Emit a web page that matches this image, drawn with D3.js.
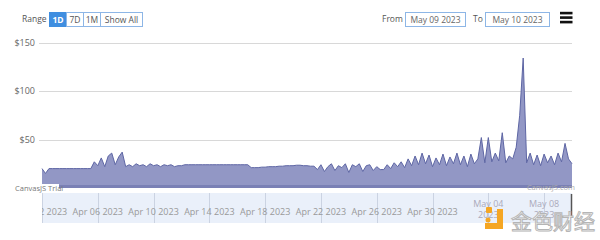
<!DOCTYPE html>
<html>
<head>
<meta charset="utf-8">
<script src="https://cdn.jsdelivr.net/npm/d3@7"></script>
<style>
  body { margin: 0; background: #fff; }
  svg { display: block; font-family: "Open Sans", "Liberation Sans", sans-serif; }
</style>
</head>
<body>
<div id="chart"></div>
<script>
// chart size
const width = 600;
const height = 240;

// data: one value every 6 hours, Apr 02 2023 -> May 10 2023
const startDate = new Date(2023, 3, 2);
const stepHours = 6;
const prices = [
  20, 15, 20, 20, 20, 20, 20, 20, 20, 20, 20, 20, 20, 20, 20,
  27, 23, 31, 22, 33, 36, 24, 32, 37, 22,
  24, 22, 25, 23, 24, 22, 25, 23, 24, 22, 24, 23, 24, 22, 23, 23,
  24, 24, 24, 24, 24, 24, 24, 24, 24, 24, 24, 24, 24, 24, 24, 24, 24, 24, 24,
  21, 21, 21, 21.5, 21.5, 22, 22, 22, 22.5, 22.5, 23, 23, 23, 23.5, 23.5,
  23, 23, 22.5, 22.5,
  19, 24, 17, 22, 25, 18, 23, 21, 25, 16, 24, 22, 25, 17, 23, 24, 18, 22,
  19, 19,
  24, 20, 26, 22, 27, 21, 30, 23, 33, 24, 36, 25,
  34, 22, 31, 24, 35, 23, 32, 25, 36, 24, 33, 22, 35, 25, 30, 52, 26, 52, 27, 36,
  28, 57, 26, 33, 30, 42, 75, 134, 26, 36, 24, 34, 23, 35, 26, 33, 24, 36, 27, 46,
  30, 25
];
const yTicks = [0, 50, 100, 150];
const navTicks = ["2023-04-02", "2023-04-06", "2023-04-10", "2023-04-14", "2023-04-18",
  "2023-04-22", "2023-04-26", "2023-04-30", "2023-05-04", "2023-05-08"];
const rangeButtons = ["1D", "7D", "1M", "Show All"];
const fromDate = "May 09 2023";
const toDate = "May 10 2023";

const series = prices.map((v, i) => ({
  date: d3.timeHour.offset(startDate, i * stepHours),
  value: v
}));

const plot = {left: 42, right: 572, top: 42.5, bottom: 188};
const nav = {top: 193, bottom: 223};

const svg = d3.select("#chart")
  .append("svg")
  .attr("width", width)
  .attr("height", height);

// scales
const x = d3.scaleTime()
  .domain([startDate, new Date(2023, 4, 10)])
  .range([plot.left, plot.right]);

const y = d3.scaleLinear()
  .domain([0, 150])
  .range([plot.bottom, plot.top]);

// toolbar
svg.append("text")
  .attr("x", 22).attr("y", 22)
  .attr("font-size", 8.5).attr("fill", "#555")
  .text("Range");

const btnW = [17, 17, 17, 42];
let bx = 49.5;
rangeButtons.forEach((b, i) => {
  const g = svg.append("g");
  g.append("rect")
    .attr("x", bx).attr("y", 12.5)
    .attr("width", btnW[i]).attr("height", 14)
    .attr("fill", i === 0 ? "#3f8ee0" : "#fff")
    .attr("stroke", i === 0 ? "#3f8ee0" : "#8db6e6");
  g.append("text")
    .attr("x", bx + btnW[i] / 2).attr("y", 22.5)
    .attr("text-anchor", "middle")
    .attr("font-size", 8.5)
    .attr("font-weight", i === 0 ? "bold" : "normal")
    .attr("fill", i === 0 ? "#fff" : "#555")
    .text(b);
  bx += btnW[i];
});

svg.append("text")
  .attr("x", 382).attr("y", 22)
  .attr("font-size", 8.5).attr("fill", "#555")
  .text("From");
svg.append("rect")
  .attr("x", 405.5).attr("y", 12.5).attr("width", 60).attr("height", 14)
  .attr("fill", "#fff").attr("stroke", "#8db6e6");
svg.append("text")
  .attr("x", 435.5).attr("y", 22.5).attr("text-anchor", "middle")
  .attr("font-size", 8.5).attr("fill", "#666")
  .text(fromDate);
svg.append("text")
  .attr("x", 473).attr("y", 22)
  .attr("font-size", 8.5).attr("fill", "#555")
  .text("To");
svg.append("rect")
  .attr("x", 485.5).attr("y", 12.5).attr("width", 64).attr("height", 14)
  .attr("fill", "#fff").attr("stroke", "#8db6e6");
svg.append("text")
  .attr("x", 517.5).attr("y", 22.5).attr("text-anchor", "middle")
  .attr("font-size", 8.5).attr("fill", "#666")
  .text(toDate);

// hamburger menu
[13, 17.5, 22].forEach(yy => {
  svg.append("rect")
    .attr("x", 560).attr("y", yy - 1.2)
    .attr("width", 12.5).attr("height", 2.6)
    .attr("fill", "#111");
});

// grid + y labels
svg.append("g")
  .selectAll("line")
  .data(yTicks.filter(d => d > 0))
  .join("line")
    .attr("x1", 39).attr("x2", plot.right)
    .attr("y1", d => Math.round(y(d)) + 0.5)
    .attr("y2", d => Math.round(y(d)) + 0.5)
    .attr("stroke", "#d8d8d8");

svg.append("g")
  .selectAll("text")
  .data(yTicks)
  .join("text")
    .attr("x", 35)
    .attr("y", d => y(d) + 3)
    .attr("text-anchor", "end")
    .attr("font-size", 9)
    .attr("fill", "#666")
    .text(d => "$" + d);

// area
const area = d3.area()
  .x(d => x(d.date))
  .y0(y(0))
  .y1(d => y(d.value));

const line = d3.line()
  .x(d => x(d.date))
  .y(d => y(d.value));

svg.append("path")
  .datum(series)
  .attr("d", area)
  .attr("fill", "#9297c5");

svg.append("path")
  .datum(series)
  .attr("d", line)
  .attr("fill", "none")
  .attr("stroke", "#5e66a4")
  .attr("stroke-width", 1);

svg.append("line")
  .attr("x1", plot.left).attr("x2", plot.right)
  .attr("y1", plot.bottom - 1.5).attr("y2", plot.bottom - 1.5)
  .attr("stroke", "#7a80b5").attr("stroke-width", 3);

// credits
svg.append("rect")
  .attr("x", 14).attr("y", 184).attr("width", 45).attr("height", 9)
  .attr("fill", "#fff");
svg.append("text")
  .attr("x", 15).attr("y", 191)
  .attr("font-size", 7.5).attr("fill", "#777")
  .text("CanvasJS Trial");
svg.append("text")
  .attr("x", 575).attr("y", 190)
  .attr("text-anchor", "end")
  .attr("font-size", 7.5).attr("fill", "#aaa")
  .text("CanvasJS.com");

// navigator
svg.append("clipPath")
  .attr("id", "navclip")
  .append("rect")
    .attr("x", plot.left).attr("y", nav.top)
    .attr("width", plot.right - plot.left).attr("height", nav.bottom - nav.top);

svg.append("rect")
  .attr("x", plot.left).attr("y", nav.top)
  .attr("width", plot.right - plot.left).attr("height", nav.bottom - nav.top)
  .attr("fill", "#eaf0fa");

const navG = svg.append("g").attr("clip-path", "url(#navclip)");
const navDates = navTicks.map(s => d3.timeParse("%Y-%m-%d")(s));

navG.selectAll("line")
  .data(navDates)
  .join("line")
    .attr("x1", d => Math.round(x(d)) + 0.5)
    .attr("x2", d => Math.round(x(d)) + 0.5)
    .attr("y1", nav.top).attr("y2", nav.bottom)
    .attr("stroke", "#cbd3e2");

const fmt = d3.timeFormat("%b %d %Y");
navG.selectAll("text")
  .data(navDates)
  .join("text")
    .attr("x", d => x(d))
    .attr("y", 215)
    .attr("text-anchor", "middle")
    .attr("font-size", 9)
    .attr("fill", (d, i) => i >= navDates.length - 2 ? "#aab" : "#999")
    .each(function(d, i) {
      const t = d3.select(this);
      if (i >= navDates.length - 2) {
        t.attr("y", 207);
        t.append("tspan").attr("x", x(d)).text(d3.timeFormat("%b %d")(d));
        t.append("tspan").attr("x", x(d)).attr("dy", 11).text("2023");
      } else {
        t.text(fmt(d));
      }
    });

// slider handle at right end
svg.append("line")
  .attr("x1", 571.5).attr("x2", 571.5)
  .attr("y1", 194).attr("y2", 218)
  .attr("stroke", "#555").attr("stroke-width", 1.5);

// watermark logo
const wm = svg.append("g");
wm.append("path")
  .attr("d", "M497,209 h6 v20 h-18 v-6 h12 Z")
  .attr("fill", "#f5a623");
wm.append("rect")
  .attr("x", 486).attr("y", 207).attr("width", 6).attr("height", 6)
  .attr("rx", 1).attr("fill", "#f5a623");
wm.append("circle")
  .attr("cx", 488).attr("cy", 220).attr("r", 2.5)
  .attr("fill", "#f5a623");
wm.append("text")
  .attr("x", 511).attr("y", 229)
  .attr("font-family", "Noto Sans CJK SC")
  .attr("font-size", 21)
  .attr("fill", "#fff")
  .attr("stroke", "#b5b5b5")
  .attr("stroke-width", 1)
  .text("金色财经");
</script>
</body>
</html>
